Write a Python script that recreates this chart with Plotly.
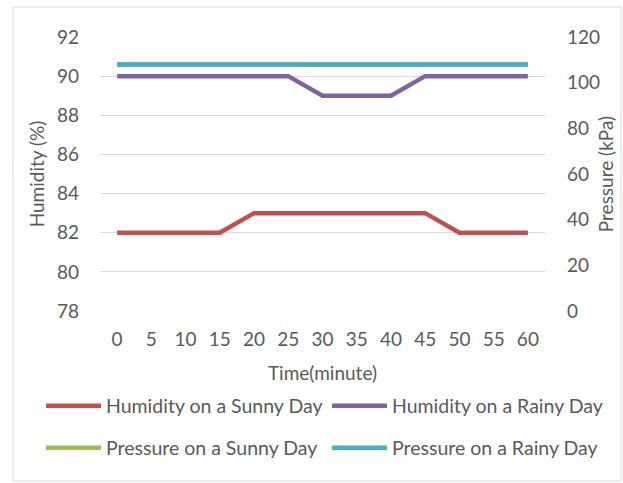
import plotly.graph_objects as go

minutes = [0, 5, 10, 15, 20, 25, 30, 35, 40, 45, 50, 55, 60]
humidity_sunny = [82, 82, 82, 82, 83, 83, 83, 83, 83, 83, 82, 82, 82]
humidity_rainy = [90, 90, 90, 90, 90, 90, 89, 89, 89, 90, 90, 90, 90]
pressure_sunny = [108, 108, 108, 108, 108, 108, 108, 108, 108, 108, 108, 108, 108]
pressure_rainy = [108, 108, 108, 108, 108, 108, 108, 108, 108, 108, 108, 108, 108]
left_ticks = [78, 80, 82, 84, 86, 88, 90, 92]
right_ticks = [0, 20, 40, 60, 80, 100, 120]

FONT = "Lato"
GRAY = "#595959"
FS = 19

W, H = 623, 483
L, R, T, B = 100, 78, 37, 172
pw = W - L - R
ph = H - T - B


def px_x(px):
    return (px - L) / pw


def px_y(py):
    return (H - B - py) / ph


series = [
    ("Humidity on a Sunny Day", minutes, humidity_sunny, "#C0504D", "y", "legend", 41, 406),
    ("Humidity on a Rainy Day", minutes, humidity_rainy, "#8064A2", "y", "legend2", 327, 406),
    ("Pressure on a Sunny Day", minutes, pressure_sunny, "#9BBB59", "y2", "legend3", 41, 448),
    ("Pressure on a Rainy Day", minutes, pressure_rainy, "#4BACC6", "y2", "legend4", 327, 448),
]

fig = go.Figure()
legends = {}
for name, xs, ys, color, yax, leg, lx, ly in series:
    fig.add_trace(go.Scatter(x=xs, y=ys, name=name, mode="lines", yaxis=yax,
                             legend=leg, line=dict(color=color, width=4.5)))
    legends[leg] = dict(x=px_x(lx), y=px_y(ly), xanchor="left", yanchor="middle",
                        orientation="h", itemwidth=55, bgcolor="rgba(0,0,0,0)",
                        font=dict(family=FONT, size=19.5, color=GRAY))

fig.update_layout(
    width=W, height=H,
    margin=dict(l=L, r=R, t=T, b=B, autoexpand=False),
    paper_bgcolor="white", plot_bgcolor="white",
    font=dict(family=FONT, size=FS, color=GRAY),
    xaxis=dict(range=[-2.5, 62.5], tickvals=minutes, ticktext=[str(m) for m in minutes],
               showgrid=False, zeroline=False, showline=False, ticks="",
               ticklabelstandoff=15,
               title=dict(text="Time(minute)", font=dict(size=FS, color=GRAY), standoff=17),
               tickfont=dict(size=FS, color=GRAY)),
    yaxis=dict(range=[78, 92], tickvals=left_ticks, showgrid=True, gridcolor="#D9D9D9",
               gridwidth=1, zeroline=False, showline=False, ticks="",
               ticklabelstandoff=20,
               title=dict(text="Humidity (%)", font=dict(size=FS, color=GRAY), standoff=7),
               tickfont=dict(size=FS, color=GRAY)),
    yaxis2=dict(range=[0, 120], tickvals=right_ticks, overlaying="y", side="right",
                showgrid=False, zeroline=False, showline=False, ticks="",
                ticklabelstandoff=21,
                title=dict(text="Pressure (kPa)", font=dict(size=FS, color=GRAY), standoff=0),
                tickfont=dict(size=FS, color=GRAY)),
    showlegend=True,
    **legends,
)

fig.add_shape(type="rect", xref="paper", yref="paper",
              x0=px_x(13), x1=px_x(621), y0=px_y(481), y1=px_y(7),
              line=dict(color="#D9D9D9", width=1), fillcolor="rgba(0,0,0,0)", layer="below")

fig.write_html("out.html", config={"displayModeBar": False},
               post_script="document.body.style.margin='0px';")
